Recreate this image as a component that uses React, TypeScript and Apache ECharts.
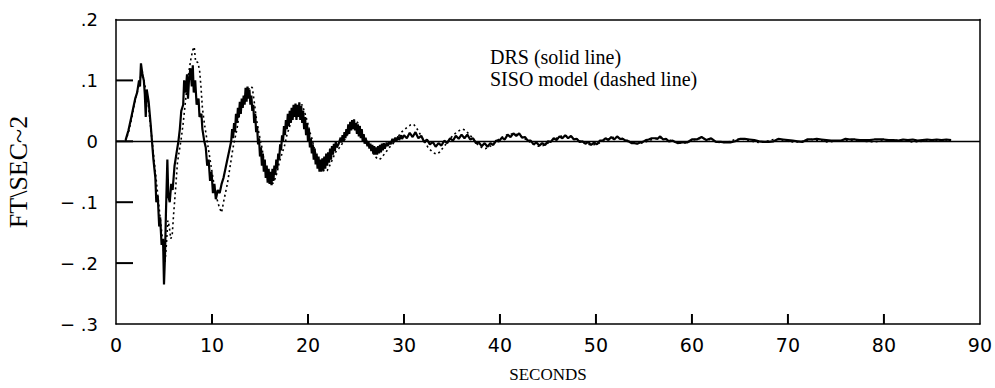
import React, { useEffect, useRef } from "react";
import * as echarts from "echarts";

const xTicks = [0, 10, 20, 30, 40, 50, 60, 70, 80, 90];
const yTicks = [-0.3, -0.2, -0.1, 0, 0.1, 0.2];
const yTickLabels: Record<string, string> = { "2": ".2", "1": ".1", "0": "0", "-1": "\u2212 .1", "-2": "\u2212 .2", "-3": "\u2212 .3" };
const legendLines = ["DRS (solid line)", "SISO model (dashed line)"];
const yAxisTitle = "FT\\SEC~2";
const xAxisTitle = "SECONDS";

// DRS measured response (solid), [seconds, ft/sec^2]
const drsEarly: [number, number][] = [
  [1.0,0.002],[1.3,0.018],[1.6,0.04],[1.8,0.055],[2.0,0.07],[2.2,0.08],[2.4,0.1],[2.5,0.09],[2.6,0.128],[2.75,0.11],[2.9,0.1],[3.0,0.078],[3.1,0.04],[3.2,0.085],[3.4,0.065],[3.6,0.03],[3.75,0.0],[3.9,-0.03],[4.1,-0.06],[4.2,-0.1],[4.35,-0.09],[4.5,-0.14],[4.6,-0.125],[4.75,-0.17],[4.9,-0.16],[5.0,-0.235],[5.1,-0.19],[5.2,-0.12],[5.35,-0.03],[5.45,-0.09],[5.6,-0.1],[5.75,-0.07],[5.9,-0.08],[6.1,-0.04],[6.3,-0.02],[6.5,0.0],[6.65,0.02],[6.8,0.05],[7.0,0.06],[7.1,0.1],[7.25,0.08],[7.4,0.11],[7.5,0.07],[7.6,0.1],[7.75,0.12],[7.9,0.09],[8.0,0.125],[8.1,0.08],[8.25,0.1],[8.4,0.06],[8.6,0.07],[8.7,0.04],[8.9,0.045],[9.0,0.02],[9.2,0.0],[9.35,-0.01],[9.5,-0.04],[9.65,-0.03],[9.8,-0.065],[9.95,-0.05],[10.1,-0.085],[10.25,-0.07],[10.4,-0.095],[10.6,-0.08],[10.8,-0.085],[11.0,-0.07],[11.2,-0.06],[11.4,-0.045],[11.6,-0.03],[11.8,-0.015],
  [12.0,0.0],[12.1,0.02],[12.2,0.005],[12.3,0.03],[12.4,0.015],[12.5,0.045],[12.6,0.03],[12.7,0.055],[12.8,0.04],[12.9,0.065],[13.0,0.045],[13.1,0.07],[13.2,0.055],[13.3,0.075],[13.4,0.06],[13.5,0.088],[13.6,0.065],[13.7,0.09],[13.8,0.07],[13.9,0.085],[14.0,0.06],[14.1,0.075],[14.2,0.05],[14.3,0.06],[14.4,0.03],[14.5,0.045],[14.6,0.015],[14.7,0.025],[14.8,-0.005],[14.9,0.005],[15.0,-0.025],[15.1,-0.01],[15.2,-0.04],[15.3,-0.02],[15.4,-0.05],[15.5,-0.03],[15.6,-0.06],[15.7,-0.04],[15.8,-0.068],[15.9,-0.045],[16.0,-0.07],[16.1,-0.05],[16.2,-0.072],[16.3,-0.045],[16.4,-0.065],[16.5,-0.04],[16.6,-0.055],[16.7,-0.03],[16.8,-0.045],[16.9,-0.02],[17.0,-0.03],[17.1,-0.005],[17.2,-0.015],[17.3,0.01],[17.4,0.0],[17.5,0.025],[17.6,0.01],[17.7,0.035],[17.8,0.02],[17.9,0.045],[18.0,0.025],[18.1,0.05],[18.2,0.03],[18.3,0.055],[18.4,0.035],[18.5,0.06],[18.6,0.04],[18.7,0.062],[18.8,0.035],[18.9,0.06],[19.0,0.04],[19.1,0.064],[19.2,0.035],[19.3,0.058],[19.4,0.03],[19.5,0.05],[19.6,0.02],[19.7,0.04],[19.8,0.01],[19.9,0.03],[20.0,0.0],[20.1,0.02],[20.2,-0.01],[20.3,0.005],[20.4,-0.02],[20.5,-0.005],[20.6,-0.03],[20.7,-0.012],[20.8,-0.038],[20.9,-0.02],[21.0,-0.045],[21.1,-0.025],[21.2,-0.05],[21.3,-0.03],[21.4,-0.05],[21.5,-0.028],[21.6,-0.048],[21.7,-0.025],[21.8,-0.045],[21.9,-0.02],[22.0,-0.04],[22.1,-0.018],[22.2,-0.035],[22.3,-0.012],[22.4,-0.03],[22.5,-0.008],[22.6,-0.022],[22.7,-0.004],[22.8,-0.016],[22.9,0.0],[23.0,-0.01],[23.2,-0.004],[23.4,0.006],[23.5,-0.002],[23.6,0.01],[23.7,0.0],[23.8,0.015],[23.9,0.005],[24.0,0.02],[24.1,0.01],[24.2,0.028],[24.3,0.012],[24.4,0.032],[24.5,0.018],[24.6,0.035],[24.7,0.02],[24.8,0.036],[24.9,0.018],[25.0,0.03],[25.1,0.012],[25.2,0.028],[25.3,0.008],[25.4,0.025],[25.5,0.005],[25.6,0.02],[25.7,0.0],[25.8,0.012],[25.9,-0.004],[26.0,0.006],[26.2,-0.008],[26.3,0.0],[26.4,-0.012],[26.5,-0.004],[26.6,-0.016],[26.7,-0.006],[26.8,-0.02],[26.9,-0.008],[27.0,-0.022],[27.1,-0.01],[27.2,-0.022],[27.3,-0.008],[27.4,-0.02],[27.5,-0.006],[27.6,-0.018],[27.7,-0.004],[27.8,-0.015],[27.9,-0.003],[28.0,-0.012],[28.2,-0.002],[28.3,-0.008],[28.5,0.0],[28.6,-0.005],[28.8,0.004],[28.9,-0.002],[29.1,0.006],[29.2,0.0],[29.4,0.008],[29.5,0.002],[29.7,0.01],[29.8,0.004]
];
const drsLate: [number, number][] = [
  [30.0,0.01],[30.3,0.005],[30.6,0.014],[30.9,0.007],[31.2,0.015],[31.5,0.005],[31.8,0.009],[32.1,-0.001],[32.4,0.003],[32.7,-0.005],[33.0,-0.001],[33.3,-0.009],[33.6,-0.003],[33.9,-0.007],[34.2,0.001],[34.5,-0.003],[34.8,0.005],[35.1,0.001],[35.4,0.009],[35.7,0.004],[36.0,0.011],[36.3,0.005],[36.6,0.011],[36.9,0.003],[37.2,0.005],[37.5,-0.003],[37.8,-0.002],[38.1,-0.008],[38.4,-0.003],[38.7,-0.009],[39.0,-0.003],[39.3,-0.006],[39.6,0.001],[39.9,0.0],[40.2,0.006],[40.5,0.003],[40.8,0.011],[41.1,0.007],[41.4,0.013],[41.7,0.009],[42.0,0.013],[42.3,0.006],[42.6,0.007],[42.9,0.001],[43.2,0.001],[43.5,-0.005],[43.8,-0.002],[44.1,-0.007],[44.4,-0.003],[44.7,-0.006],[45.0,0.0],[45.3,-0.001],[45.6,0.005],[45.9,0.002],[46.2,0.008],[46.5,0.005],[46.8,0.01],[47.1,0.005],[47.4,0.009],[47.7,0.003],[48.0,0.004],[48.3,-0.001],[48.6,0.0],[48.9,-0.004],[49.2,-0.001],[49.5,-0.006],[49.8,-0.002],[50.1,-0.005],[50.4,0.001],[50.7,0.001],[51.0,0.005],[51.3,0.002],[51.6,0.007],[51.9,0.003],[52.2,0.008],[52.5,0.004],[52.8,0.004],[53.1,0.001],[53.4,0.0],[53.7,-0.003],[54.0,-0.003],[54.3,-0.004],[54.6,-0.002],[54.9,-0.001],[55.2,0.002],[55.5,0.003],[55.8,0.005],[56.1,0.005],[56.4,0.004],[56.7,0.008],[57.0,0.003],[57.3,0.004],[57.6,0.0],
  [58.0,0.001],[58.5,-0.003],[59.0,-0.002],[59.5,-0.002],[60.0,0.003],[60.5,0.003],[61.0,0.007],[61.5,0.002],[62.0,0.005],[62.5,-0.001],[63.0,-0.001],[63.5,-0.002],[64.0,-0.002],[64.5,0.0],[65.0,0.004],[65.5,0.004],[66.0,0.003],[66.5,0.002],[67.0,0.0],[67.5,-0.001],[68.0,-0.001],[68.5,0.0],[69.0,0.004],[69.5,0.003],[70.0,0.002],[70.5,0.001],[71.0,0.0],[71.5,-0.001],[72.0,0.003],[72.5,0.003],[73.0,0.004],[73.5,0.003],[74.0,0.002],[74.5,0.001],[75.0,0.001],[75.5,0.001],[76.0,0.004],[76.5,0.003],[77.0,0.003],[77.5,0.002],[78.0,0.002],[78.5,0.002],[79.0,0.003],[79.5,0.003],[80.0,0.003],[80.5,0.002],[81.0,0.002],[81.5,0.001],[82.0,0.003],[82.5,0.002],[83.0,0.003],[83.5,0.001],[84.0,0.002],[84.5,0.003],[85.0,0.002],[85.5,0.003],[86.0,0.002],[86.5,0.003],[87.0,0.002]
];

// SISO model response (dashed/dotted)
const sisoEarly: [number, number][] = [
  [1.0,0.0],[1.3,0.015],[1.6,0.035],[1.9,0.06],[2.2,0.08],[2.5,0.1],[2.7,0.118],[2.9,0.1],[3.1,0.085],[3.3,0.07],[3.5,0.04],[3.7,0.01],[3.9,-0.02],[4.1,-0.05],[4.3,-0.08],[4.5,-0.11],[4.7,-0.14],[4.9,-0.17],[5.1,-0.2],[5.25,-0.17],[5.4,-0.13],[5.55,-0.14],[5.7,-0.16],[5.85,-0.155],[6.0,-0.12],[6.2,-0.08],[6.4,-0.035],[6.6,-0.015],[6.8,0.005],[7.0,0.03],[7.2,0.06],[7.4,0.09],[7.6,0.115],[7.8,0.135],[8.0,0.15],[8.15,0.155],[8.3,0.13],[8.5,0.13],[8.7,0.118],[8.85,0.09],[9.0,0.055],[9.2,0.03],[9.4,0.01],[9.6,-0.01],[9.8,-0.03],[10.0,-0.05],[10.2,-0.07],[10.4,-0.085],[10.6,-0.1],[10.8,-0.11],[11.0,-0.117],[11.2,-0.1],[11.4,-0.085],[11.6,-0.07],[11.8,-0.05],[12.0,-0.03],[12.2,-0.01],[12.4,0.005],[12.6,0.02],[12.8,0.04],[13.0,0.055],[13.2,0.065],[13.4,0.075],[13.6,0.08],[13.8,0.085],[14.0,0.09],[14.2,0.088],[14.4,0.065],[14.6,0.04],[14.8,0.02],[15.0,0.005],[15.2,-0.01],[15.4,-0.03],[15.6,-0.045],[15.8,-0.055],[16.0,-0.062],[16.2,-0.07],[16.4,-0.068],[16.6,-0.06],[16.8,-0.05],[17.0,-0.035],[17.2,-0.025],[17.4,-0.015],[17.6,-0.005],[17.8,0.01],[18.0,0.02],[18.2,0.03],[18.4,0.04],[18.6,0.045],[18.8,0.05],[19.0,0.055],[19.2,0.058],[19.4,0.06],[19.6,0.05],[19.8,0.04],[20.0,0.028],[20.2,0.015],[20.4,0.005],[20.6,-0.008],[20.8,-0.02],[21.0,-0.03],[21.2,-0.038],[21.4,-0.045],[21.6,-0.048],[21.8,-0.05],[22.0,-0.048],[22.2,-0.042],[22.4,-0.035],[22.6,-0.028],[22.8,-0.02],[23.0,-0.015],[23.2,-0.012],[23.4,-0.008],[23.6,-0.003],[23.8,0.002],[24.0,0.008],[24.2,0.015],[24.4,0.022],[24.6,0.028],[24.8,0.032],[25.0,0.034],[25.2,0.03],[25.4,0.024],[25.6,0.018],[25.8,0.01],[26.0,0.004],[26.2,-0.002],[26.4,-0.008],[26.6,-0.014],[26.8,-0.02],[27.0,-0.025],[27.2,-0.028],[27.4,-0.03],[27.6,-0.028],[27.8,-0.024],[28.0,-0.02],[28.3,-0.014],[28.6,-0.008],[28.9,-0.003],[29.2,0.003],[29.5,0.01],[29.8,0.016]
];
const sisoLate: [number, number][] = [
  [30.1,0.02],[30.4,0.024],[30.7,0.027],[31.0,0.028],[31.3,0.022],[31.6,0.014],[31.9,0.006],[32.2,-0.002],[32.5,-0.01],[32.8,-0.015],[33.1,-0.019],[33.4,-0.021],[33.7,-0.018],[34.0,-0.012],[34.3,-0.006],[34.6,0.0],[34.9,0.006],[35.2,0.011],[35.5,0.015],[35.8,0.018],[36.1,0.02],[36.4,0.018],[36.7,0.013],[37.0,0.008],[37.3,0.002],[37.6,-0.004],[37.9,-0.008],[38.2,-0.011],[38.5,-0.012],[38.8,-0.01],[39.1,-0.007],[39.4,-0.003],[39.7,0.001],[40.0,0.005],[40.5,0.009],[41.0,0.012],[41.5,0.012],[42.0,0.01],[42.5,0.005],[43.0,0.0],[43.5,-0.005],[44.0,-0.008],[44.5,-0.007],[45.0,-0.003],[45.5,0.002],[46.0,0.006],[46.5,0.009],[47.0,0.009],[47.5,0.007],[48.0,0.003],[48.5,-0.001],[49.0,-0.004],[49.5,-0.006],[50.0,-0.005],[50.5,-0.002],[51.0,0.002],[51.5,0.005],[52.0,0.007],[52.5,0.006],[53.0,0.003],[53.5,0.0],[54.0,-0.003],[54.5,-0.004],[55.0,-0.002],[55.5,0.001],[56.0,0.004],[56.5,0.006],[57.0,0.005],[57.5,0.003],[58.0,0.0],[58.5,-0.002],[59.0,-0.003],[59.5,-0.002],[60.0,0.001],[60.5,0.004],[61.0,0.005],[61.5,0.004],[62.0,0.002],[62.5,-0.001],[63.0,-0.002],[63.5,-0.002],[64.0,0.0],[64.5,0.003],[65.0,0.004],[65.5,0.003],[66.0,0.001],[66.5,-0.001],[67.0,-0.002],[67.5,-0.001],[68.0,0.001],[68.5,0.003],[69.0,0.003],[69.5,0.002],[70.0,0.0],[70.5,-0.001],[71.0,-0.001],[71.5,0.0],[72.0,0.002],[72.5,0.003],[73.0,0.002],[73.5,0.001],[74.0,-0.001],[75.0,0.0],[76.0,0.002],[77.0,0.002],[78.0,0.0],[79.0,-0.001],[80.0,0.001],[81.0,0.002],[82.0,0.001],[83.0,-0.001],[84.0,0.0],[85.0,0.002],[86.0,0.001],[87.0,0.0]
];

export default function App() {
  const ref = useRef<HTMLDivElement>(null);
  useEffect(() => {
    if (!ref.current) return;
    const chart = echarts.init(ref.current, undefined, { renderer: "svg" });
    const serif = "'Liberation Serif', 'Times New Roman', serif";
    const sans = "'DejaVu Sans', sans-serif";
    const frame = { show: true, onZero: false, lineStyle: { color: "#000", width: 1.5 } };
    const xMin = xTicks[0], xMax = xTicks[xTicks.length - 1];
    const yMin = yTicks[0], yMax = yTicks[yTicks.length - 1];
    const textGraphics = [
      { type: "text", x: 18, y: 172, rotation: Math.PI / 2, style: { text: yAxisTitle, fill: "#000", font: `26px ${serif}`, align: "center", verticalAlign: "middle" } },
      { type: "text", left: 490, top: 47, style: { text: legendLines[0], fill: "#000", font: `20px ${serif}` } },
      { type: "text", left: 490, top: 69, style: { text: legendLines[1], fill: "#000", font: `20px ${serif}` } },
    ];
    chart.setOption({
      animation: false,
      backgroundColor: "#fff",
      grid: { left: 116, right: 12, top: 19.5, bottom: 61, show: false },
      xAxis: [
        {
          type: "value", position: "bottom", min: xMin, max: xMax, interval: 10,
          axisLine: frame,
          axisTick: { show: false },
          splitLine: { show: false },
          axisLabel: { color: "#000", fontFamily: sans, fontSize: 19, margin: 11 },
          name: xAxisTitle, nameLocation: "middle", nameGap: 42,
          nameTextStyle: { color: "#000", fontFamily: serif, fontSize: 17 },
        },
        {
          type: "value", position: "top", min: xMin, max: xMax, interval: 10,
          axisLine: frame, axisTick: { show: false }, axisLabel: { show: false }, splitLine: { show: false },
        },
      ],
      yAxis: [
        {
          type: "value", position: "left", min: yMin, max: yMax, interval: 0.1,
          axisLine: frame,
          axisTick: { show: false },
          splitLine: { show: false },
          axisLabel: {
            color: "#000", fontFamily: sans, fontSize: 18, margin: 18,
            formatter: (v: number) => yTickLabels[String(Math.round(v * 10))] ?? "",
          },
        },
        {
          type: "value", position: "right", min: yMin, max: yMax, interval: 0.1,
          axisLine: frame, axisTick: { show: false }, axisLabel: { show: false }, splitLine: { show: false },
        },
      ],
      graphic: textGraphics,
      series: [
        {
          name: "SISO model", type: "line", showSymbol: false, symbol: "none",
          data: [...sisoEarly, ...sisoLate],
          lineStyle: { color: "#000", width: 1.6, type: [2, 3] },
          z: 2,
        },
        {
          name: "DRS", type: "line", showSymbol: false, symbol: "none",
          data: [...drsEarly, ...drsLate],
          lineStyle: { color: "#000", width: 2.2 },
          z: 3,
          markLine: {
            silent: true, symbol: "none", label: { show: false },
            lineStyle: { color: "#000", width: 1.3, type: "solid" },
            data: [{ yAxis: 0 }],
          },
        },
      ],
    });
    // inward tick marks, positioned through the chart's own scales
    const tickLines: any[] = [];
    xTicks.slice(1, -1).forEach((t) => {
      const p = chart.convertToPixel({ gridIndex: 0 }, [t, yMin]) as number[];
      tickLines.push({ type: "line", shape: { x1: p[0], y1: p[1], x2: p[0], y2: p[1] - 10 }, style: { stroke: "#000", lineWidth: 2 }, z: 10 });
    });
    yTicks.slice(1, -1).forEach((v) => {
      const p = chart.convertToPixel({ gridIndex: 0 }, [xMin, v]) as number[];
      tickLines.push({ type: "line", shape: { x1: p[0], y1: p[1], x2: p[0] + 17, y2: p[1] }, style: { stroke: "#000", lineWidth: 2 }, z: 10 });
    });
    chart.setOption({ graphic: [...textGraphics, ...tickLines] });
    return () => chart.dispose();
  }, []);
  return <div ref={ref} style={{ position: "fixed", left: 0, top: 0, width: 995, height: 388 }} />;
}
